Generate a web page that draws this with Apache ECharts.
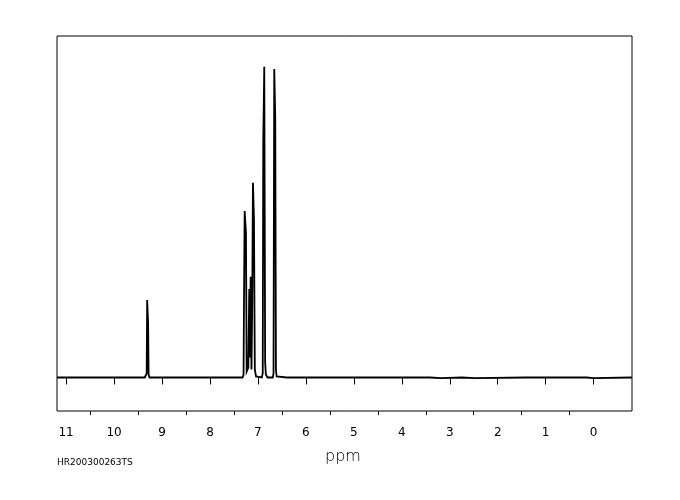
<!DOCTYPE html>
<html>
<head>
<meta charset="utf-8">
<script src="https://cdn.jsdelivr.net/npm/echarts@6/dist/echarts.min.js"></script>
<style>
  html, body { margin: 0; padding: 0; background: #fff; }
  #chart { width: 680px; height: 500px; }
</style>
</head>
<body>
<div id="chart"></div>
<script>
// Chemical shift (ppm) of each sampled point, left to right
var shiftPpm = [
  11.19, 10.50, 9.76, 9.75, 9.74, 9.36, 9.33, 9.32, 9.31, 9.29, 9.28, 9.26,
  8.60, 8.59, 8.58, 7.56, 7.55, 7.54, 7.32, 7.30, 7.29, 7.277, 7.25, 7.235,
  7.20, 7.181, 7.165, 7.152, 7.135, 7.12, 7.104, 7.083, 7.065, 7.04,
  6.92, 6.90, 6.889, 6.868, 6.85, 6.835, 6.80,
  6.69, 6.675, 6.660, 6.639, 6.625, 6.61, 6.58,
  6.40, 5.68, 5.67, 5.66, 5.09, 5.08, 5.07, 4.30, 3.41, 3.40, 3.18, 3.17,
  2.75, 2.74, 2.47, 2.46, 1.41, 1.40, 1.39, 0.14, 0.13, 0.01, 0.00, -0.01, -0.80
];
// Signal intensity at each point (arbitrary units)
var intensity = [
  0, 0, 0, 1.5, 0, 0, 2, 4, 77.5, 54.5, 3, 0,
  0, 1, 0, 0, 1.5, 0, 0, 3, 80, 166.5, 144.5, 6,
  10, 88.5, 20, 100.8, 8, 70.5, 194.8, 158.5, 8, 1,
  0, 4, 235.5, 310.8, 16, 3, 0,
  0, 4, 308.5, 259.5, 8, 1, 0,
  0, 0, 1.5, 0, 0, 1, 0, 0, 0, -0.7, -0.7, 0,
  0, -0.7, -0.7, 0, 0, 1, 0, 0, -0.7, -0.7, 0.5, 0, 0
];
// Axis tick values
var majorTicks = [0, 1, 2, 3, 4, 5, 6, 7, 8, 9, 10, 11];
var minorTicks = [0.5, 1.5, 2.5, 3.5, 4.5, 5.5, 6.5, 7.5, 8.5, 9.5, 10.5];
var axisTitle = 'ppm';
var sampleId = 'HR200300263TS';

var seriesData = shiftPpm.map(function (p, i) { return [p, intensity[i]]; });

var chart = echarts.init(document.getElementById('chart'), null, { renderer: 'canvas' });
var xMin = -0.80, xMax = 11.19;
chart.setOption({
  animation: false,
  backgroundColor: '#ffffff',
  grid: {
    left: 57, right: 48, top: 36, bottom: 89,
    show: true, borderColor: '#000', borderWidth: 1, backgroundColor: 'transparent'
  },
  xAxis: [
    {
      type: 'value', min: xMin, max: xMax, inverse: true, position: 'bottom',
      axisLine: { show: false },
      splitLine: { show: false },
      axisTick: { show: true, length: 7, customValues: majorTicks, lineStyle: { color: '#000', width: 1 } },
      axisLabel: {
        show: true, customValues: majorTicks, margin: 16,
        color: '#000', fontSize: 12, fontFamily: 'DejaVu Sans'
      }
    },
    {
      type: 'value', min: xMin, max: xMax, inverse: true, position: 'bottom',
      axisLine: { show: false },
      splitLine: { show: false },
      axisTick: { show: true, length: 4, customValues: minorTicks, lineStyle: { color: '#000', width: 1 } },
      axisLabel: { show: false }
    }
  ],
  yAxis: {
    type: 'value', min: -33.5, max: 341.5, show: false,
    splitLine: { show: false }
  },
  series: [{
    type: 'line',
    xAxisIndex: 0,
    data: seriesData,
    showSymbol: false,
    symbol: 'none',
    smooth: false,
    lineStyle: { color: '#000', width: 1.8, join: 'miter' },
    silent: true
  }],
  graphic: [
    {
      type: 'text', x: 343, y: 457,
      style: { text: axisTitle, fill: '#000', font: '200 16px "DejaVu Sans"', textAlign: 'center', textVerticalAlign: 'middle' }
    },
    {
      type: 'text', x: 57, y: 462.5,
      style: { text: sampleId, fill: '#000', font: '9px "DejaVu Sans"', textAlign: 'left', textVerticalAlign: 'middle' }
    }
  ]
});
</script>
</body>
</html>
